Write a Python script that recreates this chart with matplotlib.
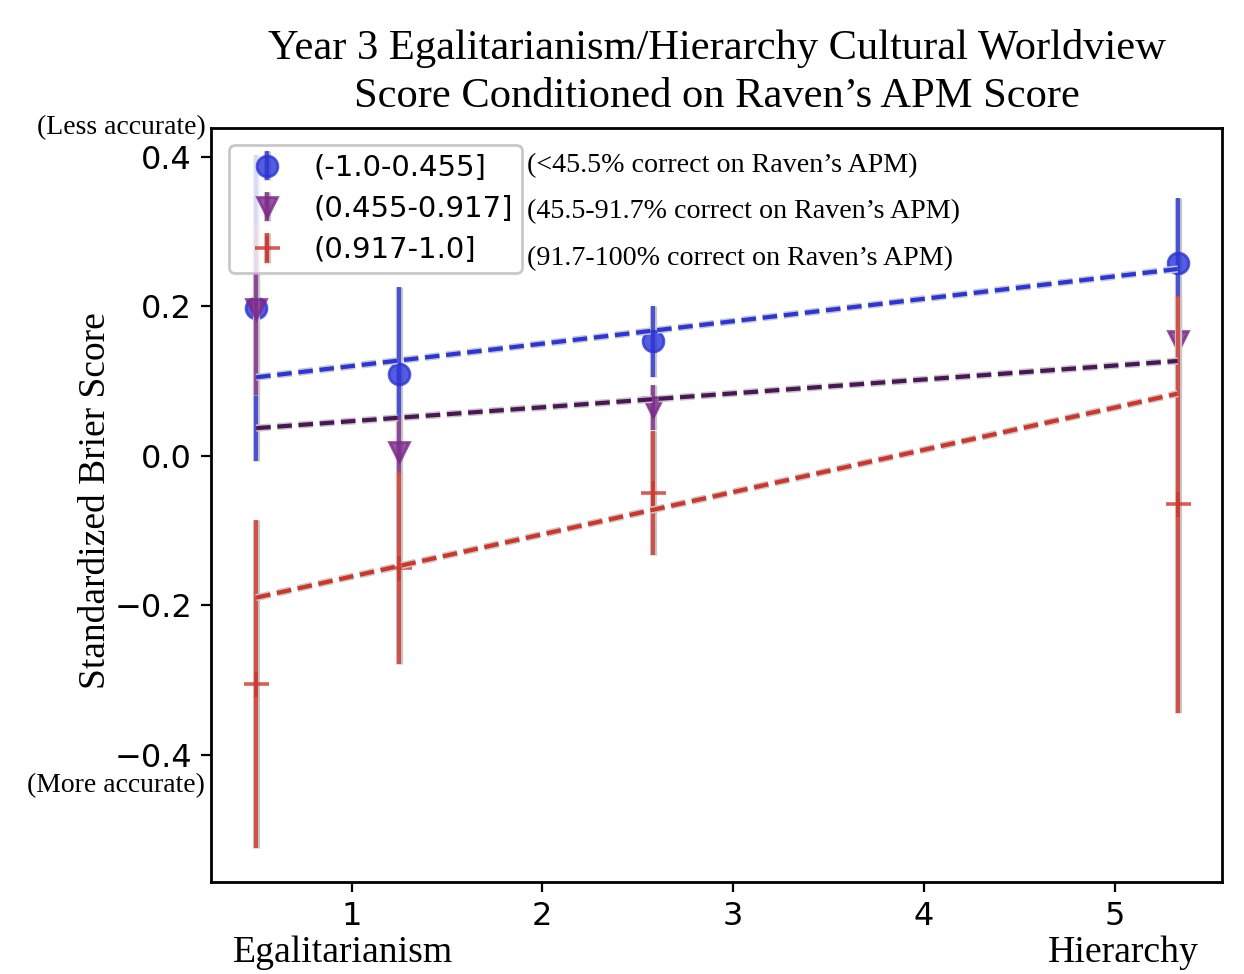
import numpy as np
import matplotlib
matplotlib.use('Agg')
import matplotlib.pyplot as plt
import matplotlib.patheffects as pe

# dados
x = [0.5, 1.25, 2.58, 5.33]
labels = ['(-1.0-0.455]', '(0.455-0.917]', '(0.917-1.0]']
notes = ["(<45.5% correct on Raven\u2019s APM)",
         "(45.5-91.7% correct on Raven\u2019s APM)",
         "(91.7-100% correct on Raven\u2019s APM)"]

y_low = [0.198, 0.110, 0.153, 0.258]
err_low = [0.205, 0.116, 0.048, 0.087]
y_mid = [0.196, 0.005, 0.065, 0.153]
err_mid = [0.115, 0.047, 0.030, 0.062]
y_high = [-0.305, -0.150, -0.050, -0.065]
err_high = [0.219, 0.128, 0.083, 0.279]

# retas ajustadas (inclinação, intercepto)
fit_low = [0.0300, 0.0900]
fit_mid = [0.0186, 0.0277]
fit_high = [0.0565, -0.2180]

cores = ['#2b35d8', '#7d2a8c', '#d0352a']
cores_fit = ['#2b35d8', '#4a1656', '#d0352a']
marcadores = ['o', 'v', '+']

serif = 'Liberation Serif'

fig = plt.figure(figsize=(6.22, 4.87), dpi=200)
ax = fig.add_axes([0.170, 0.0945, 0.812, 0.7745])

contorno = [pe.Stroke(linewidth=2.6, foreground='#c8c8c8'), pe.Normal()]

series = [(y_low, err_low, fit_low), (y_mid, err_mid, fit_mid), (y_high, err_high, fit_high)]
for i, (yv, ev, fit) in enumerate(series):
    eb = ax.errorbar(x, yv, yerr=ev, fmt=marcadores[i], color=cores[i], ecolor=cores[i],
                     elinewidth=1.5, markersize=7.5 if i < 2 else 9, mew=1.0 if i < 2 else 1.3,
                     alpha=0.8, label=labels[i], zorder=2 + i)
    for ln in eb.lines[2]:
        ln.set_path_effects(contorno)
    xs = np.array([x[0], x[-1]])
    ax.plot(xs, fit[0] * xs + fit[1], '--', color=cores_fit[i], lw=1.5,
            dashes=(3.5, 1.6), path_effects=contorno, zorder=5)

ax.set_xlim(0.266, 5.56)
ax.set_ylim(-0.570, 0.439)
ax.set_xticks([1, 2, 3, 4, 5])
ax.set_yticks([-0.4, -0.2, 0.0, 0.2, 0.4])
ax.tick_params(labelsize=11.5)
for s in ax.spines.values():
    s.set_linewidth(1.0)

leg = ax.legend(loc='upper left', fontsize=10.5, fancybox=True, framealpha=0.8,
                edgecolor='#bbbbbb', borderpad=0.3, handletextpad=0.6,
                labelspacing=0.45, bbox_to_anchor=(0.003, 0.996))
leg.set_zorder(10)

for k, t in enumerate(notes):
    fig.text(0.424, 0.830 - k * 0.0475, t, fontsize=10.1, family=serif, va='center')

fig.suptitle('Year 3 Egalitarianism/Hierarchy Cultural Worldview\nScore Conditioned on Raven\u2019s APM Score',
             x=0.576, y=0.97, fontsize=15.3, family=serif, linespacing=1.32)
ax.set_ylabel('Standardized Brier Score', fontsize=13.5, family=serif)
ax.yaxis.set_label_coords(-0.097, 0.505)
fig.text(0.165, 0.869, '(Less accurate)', fontsize=10, family=serif, ha='right', va='center')
fig.text(0.165, 0.193, '(More accurate)', fontsize=10, family=serif, ha='right', va='center')
fig.text(0.276, 0.022, 'Egalitarianism', fontsize=13.6, family=serif, ha='center', va='center')
fig.text(0.903, 0.022, 'Hierarchy', fontsize=13.6, family=serif, ha='center', va='center')

fig.savefig('out.png', dpi=200)
